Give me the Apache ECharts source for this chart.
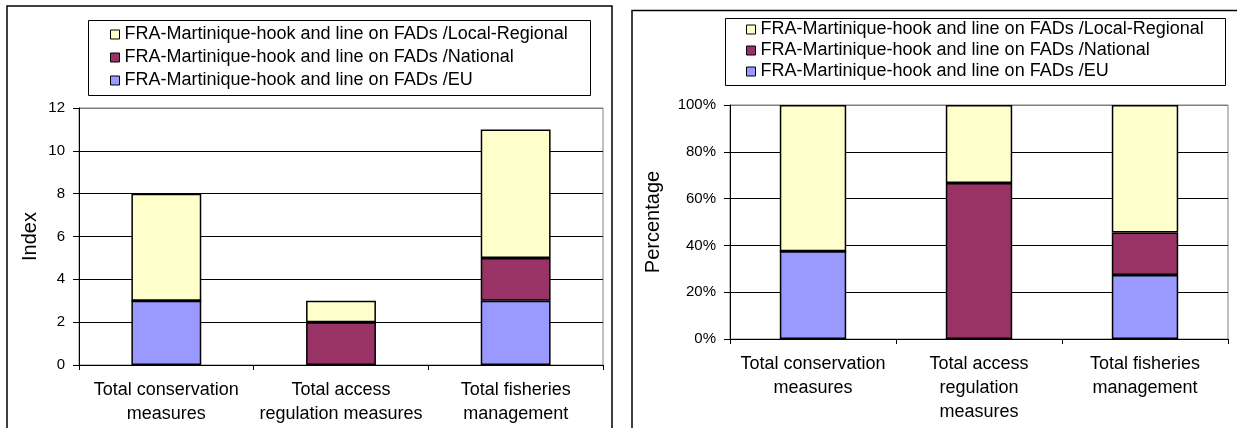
<!DOCTYPE html>
<html>
<head>
<meta charset="utf-8">
<script src="https://cdn.jsdelivr.net/npm/echarts@6/dist/echarts.min.js"></script>
<style>
html,body{margin:0;padding:0;background:#fff;}
#chart{width:1237px;height:428px;}
</style>
</head>
<body>
<div id="chart"></div>
<script>
// ---- data ----
const seriesNames = [
  'FRA-Martinique-hook and line on FADs /EU',
  'FRA-Martinique-hook and line on FADs /National',
  'FRA-Martinique-hook and line on FADs /Local-Regional'
];
const legendOrder = [
  'FRA-Martinique-hook and line on FADs /Local-Regional',
  'FRA-Martinique-hook and line on FADs /National',
  'FRA-Martinique-hook and line on FADs /EU'
];
const categoriesLeft = ['Total conservation\nmeasures', 'Total access\nregulation measures', 'Total fisheries\nmanagement'];
const categoriesRight = ['Total conservation\nmeasures', 'Total access\nregulation\nmeasures', 'Total fisheries\nmanagement'];
// Index values (left chart)
const indexEU = [3, 0, 3];
const indexNational = [0, 2, 2];
const indexLocal = [5, 1, 6];
// Percentage values (right chart)
const pctEU = [37.5, 0, 27.3];
const pctNational = [0, 66.7, 18.2];
const pctLocal = [62.5, 33.3, 54.5];
// axis ticks
const indexTicks = {min: 0, max: 12, interval: 2};
const pctTicks = {min: 0, max: 100, interval: 20};

const colors = ['#9999FF', '#993366', '#FFFFCC'];
const FONT = 'Arial, "Liberation Sans", sans-serif';

const chart = echarts.init(document.getElementById('chart'), null, {renderer: 'canvas'});

function mkSeries(name, data, color, idx, stack) {
  return {
    name: name, type: 'bar', stack: stack,
    xAxisIndex: idx, yAxisIndex: idx,
    data: data, barWidth: '40%',
    itemStyle: {color: color, borderColor: '#000', borderWidth: 1.5},
    emphasis: {disabled: true},
    animation: false
  };
}

function xAxisCfg(idx, cats) {
  return {
    type: 'category', gridIndex: idx, data: cats,
    axisLine: {lineStyle: {color: '#000', width: 1}},
    axisTick: {show: true, alignWithLabel: false, length: 5, lineStyle: {color: '#000'}},
    axisLabel: {color: '#000', fontSize: 18, fontFamily: FONT, lineHeight: 24, margin: 13, interval: 0}
  };
}

function yAxisCfg(idx, ticks, name, gap, fmt, nLines) {
  const cols = [];
  for (let i = 0; i < nLines; i++) cols.push(i === nLines - 1 ? '#808080' : '#000');
  return {
    type: 'value', gridIndex: idx, min: ticks.min, max: ticks.max, interval: ticks.interval,
    name: name, nameLocation: 'middle', nameRotate: 90, nameGap: gap,
    nameTextStyle: {color: '#000', fontSize: 20, fontFamily: FONT},
    axisLine: {show: true, lineStyle: {color: '#000', width: 1}},
    axisTick: {show: true, length: 6, lineStyle: {color: '#000'}},
    axisLabel: {color: '#000', fontSize: 15, fontFamily: FONT, margin: 14, formatter: fmt},
    splitLine: {show: true, lineStyle: {color: cols, width: 1}}
  };
}

const option = {
  animation: false,
  backgroundColor: '#fff',
  textStyle: {fontFamily: FONT},
  grid: [
    {left: 79, top: 108, width: 524, height: 257, show: true, borderColor: '#808080', borderWidth: 1, backgroundColor: 'transparent'},
    {left: 730, top: 105, width: 498, height: 234, show: true, borderColor: '#808080', borderWidth: 1, backgroundColor: 'transparent'}
  ],
  xAxis: [xAxisCfg(0, categoriesLeft), xAxisCfg(1, categoriesRight)],
  yAxis: [
    yAxisCfg(0, indexTicks, 'Index', 39, '{value}', 7),
    yAxisCfg(1, pctTicks, 'Percentage', 67, '{value}%', 6)
  ],
  legend: [
    {
      data: legendOrder, orient: 'vertical', left: 110, top: 23, padding: 0, itemGap: 0,
      icon: 'rect', itemWidth: 9, itemHeight: 9, selectedMode: false,
      itemStyle: {borderColor: '#000', borderWidth: 1},
      textStyle: {color: '#000', fontSize: 18, fontFamily: FONT, lineHeight: 23}
    },
    {
      data: legendOrder, orient: 'vertical', left: 746, top: 19, padding: 0, itemGap: 0,
      icon: 'rect', itemWidth: 9, itemHeight: 9, selectedMode: false,
      itemStyle: {borderColor: '#000', borderWidth: 1},
      textStyle: {color: '#000', fontSize: 18, fontFamily: FONT, lineHeight: 21}
    }
  ],
  graphic: [
    {type: 'rect', shape: {x: 7, y: 6, width: 605, height: 440}, style: {fill: 'none', stroke: '#000', lineWidth: 1.5}, silent: true, z: -10},
    {type: 'rect', shape: {x: 632, y: 10.5, width: 640, height: 440}, style: {fill: 'none', stroke: '#000', lineWidth: 1.5}, silent: true, z: -10},
    {type: 'rect', shape: {x: 88.5, y: 20.5, width: 502, height: 75}, style: {fill: 'none', stroke: '#000', lineWidth: 1}, silent: true, z: -5},
    {type: 'rect', shape: {x: 725.5, y: 18.5, width: 500, height: 67}, style: {fill: 'none', stroke: '#000', lineWidth: 1}, silent: true, z: -5}
  ],
  series: [
    mkSeries(seriesNames[0], indexEU, colors[0], 0, 'idx'),
    mkSeries(seriesNames[1], indexNational, colors[1], 0, 'idx'),
    mkSeries(seriesNames[2], indexLocal, colors[2], 0, 'idx'),
    mkSeries(seriesNames[0], pctEU, colors[0], 1, 'pct'),
    mkSeries(seriesNames[1], pctNational, colors[1], 1, 'pct'),
    mkSeries(seriesNames[2], pctLocal, colors[2], 1, 'pct')
  ]
};
chart.setOption(option);
</script>
</body>
</html>
